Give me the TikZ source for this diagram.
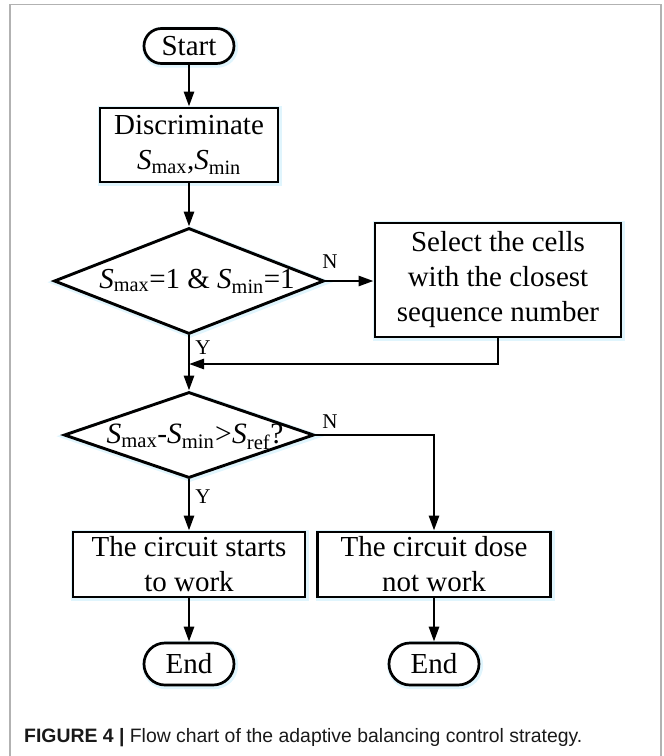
\documentclass[tikz,border=0pt]{standalone}
\usepackage{fontspec}
\setmainfont{Liberation Serif}
\newfontfamily\capfont{Liberation Sans}
\usetikzlibrary{arrows.meta,shapes.geometric,shadows}
\newcommand\Sv[1]{\textit{S}\textsubscript{#1}}
\begin{document}
\begin{tikzpicture}[x=1pt,y=-1pt,
  font=\fontsize{29}{35}\selectfont,
  glow/.style={general shadow={shadow xshift=1.2pt, shadow yshift=-1.2pt, draw=cyan!12, line width=6pt, fill=none}},
  line/.style={line width=2.7pt, black},
  arr/.style={line, -{Triangle[length=15pt,width=10pt]}},
  terminal/.style={draw, line width=2.7pt, minimum width=90pt, inner sep=0pt, fill=white, glow},
  procbox/.style={draw, line width=2.9pt, align=center, inner sep=0pt, fill=white, glow},
  decision/.style={draw, line width=2.9pt, shape=diamond, inner sep=0pt, fill=white, glow},
  dtext/.style={font=\fontsize{29}{34}\selectfont, inner sep=0pt},
  lbl/.style={font=\fontsize{21}{24}\selectfont, inner sep=0pt}
]
\useasboundingbox (0,0) rectangle (664,756);
\draw[line width=1.6pt, black!30] (10,756) -- (10,4.5) -- (661,4.5) -- (661,756);

\node[terminal, minimum height=35pt, rounded corners=17.5pt] (start) at (189,46) {Start};
\node[procbox, minimum width=178pt, minimum height=74pt] (disc) at (189,145) {Discriminate\\\Sv{max},\Sv{min}};
\node[decision, minimum width=270pt, minimum height=106pt,
  label={[dtext, xshift=8pt]center:\Sv{max}=1 \& \Sv{min}=1}] (d1) at (189,281) {};
\node[procbox, minimum width=246pt, minimum height=114pt] (sel) at (498,280) {Select the cells\\with the closest\\sequence number};
\node[decision, minimum width=250pt, minimum height=86pt,
  label={[dtext, font=\fontsize{29.5}{34}\selectfont, xshift=6pt, yshift=-2pt]center:\Sv{max}-\Sv{min}\kern0.5pt>\kern0.5pt\Sv{ref}?}] (d2) at (189,435) {};
\node[procbox, minimum width=232pt, minimum height=65pt] (b1) at (189,564.5) {The circuit starts\\to work};
\node[procbox, minimum width=233pt, minimum height=65pt] (b2) at (434,564.5) {The circuit dose\\not work};
\node[terminal, minimum height=42pt, rounded corners=21pt] (e1) at (189,664) {End};
\node[terminal, minimum height=42pt, rounded corners=21pt] (e2) at (434,664) {End};

\coordinate (m1) at (189,364);

\draw[arr] (start) -- (disc);
\draw[arr] (disc) -- (d1);
\draw[arr] (d1.east) -- (d1.east -| sel.west);
\draw[arr] (d1) -- (d2);
\draw[arr] (sel.south) |- (m1);
\draw[arr] (d2) -- (b1);
\draw[arr] (d2.east) -| (b2.north);
\draw[arr] (b1) -- (e1);
\draw[arr] (b2) -- (e2);

\node[lbl] (n1) at (330,262) {N};
\node[lbl] (y1) at (203,348) {Y};
\node[lbl] (n2) at (330,422) {N};
\node[lbl] (y2) at (203,497) {Y};

\node[anchor=west, font=\capfont\fontsize{19.4}{24}\selectfont, inner sep=0pt, text=black!90] (cap) at (24,738) {\textbf{FIGURE 4 |} Flow chart of the adaptive balancing control strategy.};
\end{tikzpicture}
\end{document}
